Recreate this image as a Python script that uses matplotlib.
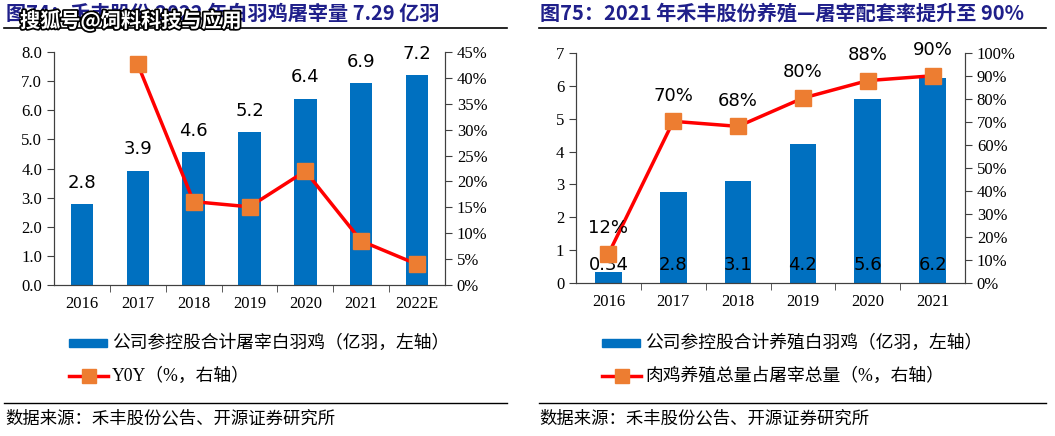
import matplotlib.pyplot as plt
import matplotlib.patheffects as pe
from matplotlib.lines import Line2D
from matplotlib.patches import Rectangle
from matplotlib.ticker import FuncFormatter, MultipleLocator

# left chart data
years_l = ['2016', '2017', '2018', '2019', '2020', '2021', '2022E']
slaughter = [2.77, 3.93, 4.55, 5.25, 6.40, 6.93, 7.20]
slaughter_lbl = ['2.8', '3.9', '4.6', '5.2', '6.4', '6.9', '7.2']
yoy = [None, 42.6, 16.1, 15.1, 22.0, 8.5, 4.0]

# right chart data
years_r = ['2016', '2017', '2018', '2019', '2020', '2021']
breeding = [0.34, 2.76, 3.11, 4.23, 5.60, 6.25]
breeding_lbl = ['0.34', '2.8', '3.1', '4.2', '5.6', '6.2']
ratio = [12.6, 70.3, 68.1, 80.4, 88.0, 90.1]
ratio_lbl = ['12%', '70%', '68%', '80%', '88%', '90%']

BLUE = '#0070C0'
RED = '#FF0000'
ORANGE = '#ED7D31'
NAVY = '#1F1F8A'
SERIF = ['Liberation Serif', 'Noto Sans CJK SC']
CJK = ['Noto Sans CJK SC', 'DejaVu Sans']

W, H = 1055, 436
fig = plt.figure(figsize=(W / 100, H / 100), dpi=100)


def px_axes(x0, y0, x1, y1):
    return fig.add_axes([x0 / W, 1 - y1 / H, (x1 - x0) / W, (y1 - y0) / H])


def style(ax, twin, n):
    ax.spines['top'].set_visible(False)
    twin.spines['top'].set_visible(False)
    for a in (ax, twin):
        for s in a.spines.values():
            s.set_color('#404040')
    ax.set_xlim(-0.5, n - 0.5)
    ax.set_xticks(range(n))
    ax.set_xticks([i + 0.5 for i in range(n - 1)], minor=True)
    ax.tick_params(axis='x', which='major', length=0, pad=8)
    ax.tick_params(axis='x', which='minor', length=5, direction='out', color='#404040')
    ax.tick_params(axis='y', length=5, direction='out', color='#404040')
    twin.tick_params(axis='y', length=5, direction='out', color='#404040')
    for lab in ax.get_xticklabels() + ax.get_yticklabels() + twin.get_yticklabels():
        lab.set_fontfamily(SERIF)
        lab.set_fontsize(12)


# ---------- left panel ----------
ax1 = px_axes(54, 52, 445, 285)
xl = list(range(len(years_l)))
ax1.bar(xl, slaughter, width=0.4, color=BLUE, zorder=2)
ax1.set_ylim(0, 8)
ax1.yaxis.set_major_locator(MultipleLocator(1))
ax1.yaxis.set_major_formatter(FuncFormatter(lambda v, p: f'{v:.1f}'))
ax1.set_xticklabels(years_l)
for x, v, t in zip(xl, slaughter, slaughter_lbl):
    ax1.annotate(t, (x, v), xytext=(0, 9), textcoords='offset points',
                 ha='center', va='bottom', fontsize=13, family='DejaVu Sans')
tw1 = ax1.twinx()
xs = [x for x, v in zip(xl, yoy) if v is not None]
ys = [v for v in yoy if v is not None]
tw1.plot(xs, ys, color=RED, lw=2.5, marker='s', ms=11, mfc=ORANGE, mec=ORANGE, zorder=3)
tw1.set_ylim(0, 45)
tw1.yaxis.set_major_locator(MultipleLocator(5))
tw1.yaxis.set_major_formatter(FuncFormatter(lambda v, p: f'{v:.0f}%'))
style(ax1, tw1, len(years_l))

# ---------- right panel ----------
ax2 = px_axes(576, 53, 965, 283)
xr = list(range(len(years_r)))
ax2.bar(xr, breeding, width=0.41, color=BLUE, zorder=2)
ax2.set_ylim(0, 7)
ax2.yaxis.set_major_locator(MultipleLocator(1))
ax2.set_xticklabels(years_r)
for x, t in zip(xr, breeding_lbl):
    ax2.text(x, 0.55, t, ha='center', va='center', fontsize=13, family='DejaVu Sans', zorder=4)
tw2 = ax2.twinx()
tw2.plot(xr, ratio, color=RED, lw=2.5, marker='s', ms=11, mfc=ORANGE, mec=ORANGE, zorder=3)
for x, v, t in zip(xr, ratio, ratio_lbl):
    tw2.annotate(t, (x, v), xytext=(0, 12), textcoords='offset points',
                 ha='center', va='bottom', fontsize=13, family='DejaVu Sans')
tw2.set_ylim(0, 100)
tw2.yaxis.set_major_locator(MultipleLocator(10))
tw2.yaxis.set_major_formatter(FuncFormatter(lambda v, p: f'{v:.0f}%'))
style(ax2, tw2, len(years_r))

# ---------- titles, legends, sources ----------
def fy(y):
    return 1 - y / H


fig.text(6 / W, fy(13), '图74：禾丰股份 2022 年白羽鸡屠宰量 7.29 亿羽', family=CJK,
         fontsize=14.5, fontweight='bold', color=NAVY, va='center')
fig.text(540 / W, fy(13), '图75：2021 年禾丰股份养殖—屠宰配套率提升至 90%', family=CJK,
         fontsize=14.5, fontweight='bold', color=NAVY, va='center')
fig.text(20 / W, fy(21), '搜狐号@饲料科技与应用', family=CJK, fontsize=14.5, fontweight='bold',
         color='white', va='center',
         path_effects=[pe.withStroke(linewidth=2.5, foreground='black')])

for x0, x1 in [(4, 507), (539, 1046)]:
    fig.add_artist(Line2D([x0 / W, x1 / W], [fy(28), fy(28)], color='black', lw=1.2))
    fig.add_artist(Line2D([x0 / W, x1 / W], [fy(403), fy(403)], color='black', lw=1.0))

legends = [
    (69, '公司参控股合计屠宰白羽鸡（亿羽，左轴）', 'Y0Y（%，右轴）'),
    (602, '公司参控股合计养殖白羽鸡（亿羽，左轴）', '肉鸡养殖总量占屠宰总量（%，右轴）'),
]
for lx, bar_txt, line_txt in legends:
    fig.add_artist(Rectangle((lx / W, fy(347)), 38 / W, 8 / H, color=BLUE,
                             transform=fig.transFigure))
    fig.text((lx + 43) / W, fy(343), bar_txt, family=SERIF, fontsize=12.8, va='center')
    fig.add_artist(Line2D([lx / W, (lx + 39) / W], [fy(376), fy(376)], color=RED, lw=2.5,
                          transform=fig.transFigure))
    fig.add_artist(Line2D([(lx + 19.5) / W], [fy(376)], marker='s', ms=10, mfc=ORANGE,
                          mec=ORANGE, transform=fig.transFigure))
    fig.text((lx + 43) / W, fy(376), line_txt, family=SERIF, fontsize=12.8, va='center')

for sx in (5, 539):
    fig.text(sx / W, fy(418), '数据来源：禾丰股份公告、开源证券研究所', family=CJK,
             fontsize=12.5, va='center')

fig.savefig('out.png', dpi=100)
